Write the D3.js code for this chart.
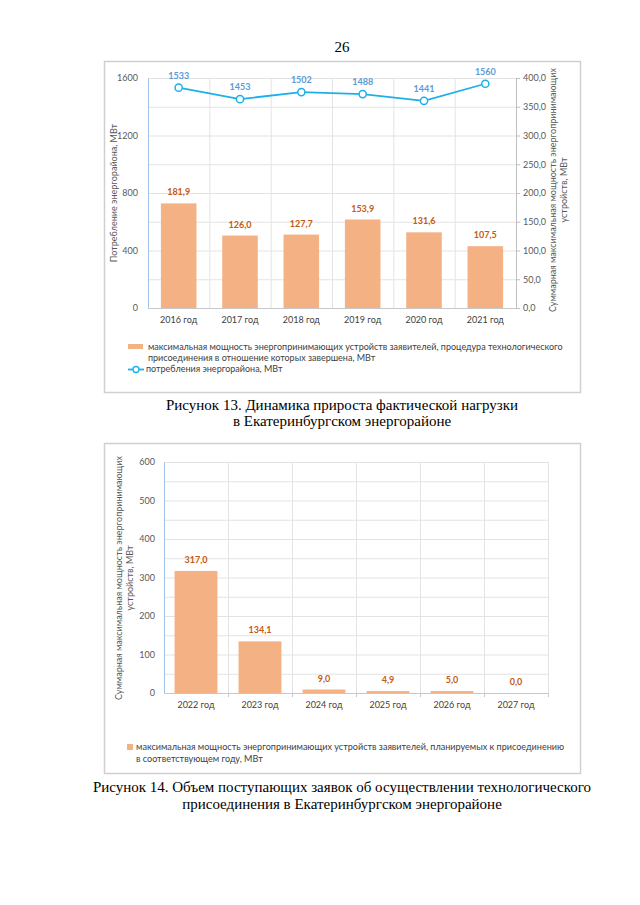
<!DOCTYPE html>
<html><head><meta charset="utf-8">
<script src="https://cdn.jsdelivr.net/npm/d3@7/dist/d3.min.js"></script>
<style>body{margin:0;background:#fff}svg{display:block}</style>
</head><body>
<svg id="c" width="640" height="905"></svg>
<script>
// ---- Data: figure 13 ----
const years1 = ["2016 год","2017 год","2018 год","2019 год","2020 год","2021 год"];
const barVals1 = [181.9,126.0,127.7,153.9,131.6,107.5];
const lineVals1 = [1533,1453,1502,1488,1441,1560];
const leftTicks1 = [0,400,800,1200,1600];
const rightTicks1 = [0,50,100,150,200,250,300,350,400];
// ---- Data: figure 14 ----
const years2 = ["2022 год","2023 год","2024 год","2025 год","2026 год","2027 год"];
const barVals2 = [317.0,134.1,9.0,4.9,5.0,0.0];
const leftTicks2 = [0,100,200,300,400,500,600];

const fmt = v => v.toFixed(1).replace(".", ",");
const svg = d3.select("#c");
const SANS = "Lato, 'Open Sans', sans-serif";
const SERIF = "'Liberation Serif', 'DejaVu Serif', serif";
const BAR = "#f4b183", BARLBL = "#c55a11", LINE = "#1cb0ea", LINELBL = "#5b9bd5";
const GRID = "#e3e3e3", TXT = "#595959";

// page number
svg.append("text").attr("x",342).attr("y",52).attr("text-anchor","middle")
  .attr("font-family",SERIF).attr("font-size",15).text("26");

// ================= Figure 13 =================
{
  const g = svg.append("g");
  g.append("rect").attr("x",104.5).attr("y",61.5).attr("width",476).attr("height",331)
    .attr("fill","#fff").attr("stroke","#d0d0d0").attr("stroke-width",1.5);
  const x = d3.scaleBand().domain(years1).range([148,516]).paddingInner(0.42).paddingOuter(0.21);
  const xb = d3.scaleBand().domain(years1).range([148,516]);
  const yL = d3.scaleLinear().domain([0,1600]).range([308,78]);
  const yR = d3.scaleLinear().domain([0,400]).range([308,78]);
  // horizontal grid
  g.append("g").selectAll("line").data(d3.range(200,1601,200)).join("line")
    .attr("x1",148).attr("x2",516).attr("y1",d=>yL(d)+0.5).attr("y2",d=>yL(d)+0.5)
    .attr("stroke",GRID);
  // vertical grid
  g.append("g").selectAll("line").data(years1.slice(1)).join("line")
    .attr("x1",d=>xb(d)+0.5).attr("x2",d=>xb(d)+0.5).attr("y1",78).attr("y2",308)
    .attr("stroke",GRID);
  // bottom axis
  const ax = g.append("g").attr("transform","translate(0,308)")
    .call(d3.axisBottom(xb).tickSize(0).tickPadding(9));
  ax.select(".domain").attr("stroke","#c8c8c8");
  ax.selectAll("text").attr("font-family",SANS).attr("font-size",9).attr("fill","#404040");
  // left axis
  const al = g.append("g").attr("transform","translate(148,0)")
    .call(d3.axisLeft(yL).tickValues(leftTicks1).tickFormat(d=>String(d)).tickSize(0).tickPadding(10));
  al.select(".domain").attr("stroke","#9dc3e6");
  al.selectAll("text").attr("font-family",SANS).attr("font-size",9).attr("fill",TXT);
  // right axis
  const ar = g.append("g").attr("transform","translate(516,0)")
    .call(d3.axisRight(yR).tickValues(rightTicks1).tickFormat(fmt).tickSize(4).tickPadding(3));
  ar.select(".domain").attr("stroke","#bfbfbf");
  ar.selectAll("line").attr("stroke","#bfbfbf");
  ar.selectAll("text").attr("font-family",SANS).attr("font-size",9).attr("fill",TXT);
  // bars
  g.append("g").selectAll("rect").data(barVals1).join("rect")
    .attr("x",(d,i)=>x(years1[i])).attr("width",x.bandwidth())
    .attr("y",d=>yR(d)).attr("height",d=>yR(0)-yR(d)).attr("fill",BAR);
  g.append("g").selectAll("text").data(barVals1).join("text")
    .attr("x",(d,i)=>xb(years1[i])+xb.bandwidth()/2).attr("y",d=>yR(d)-8)
    .attr("text-anchor","middle").attr("font-family",SANS).attr("font-size",9)
    .attr("font-weight","bold").attr("fill",BARLBL).text(fmt);
  // line
  const cx = (d,i)=>xb(years1[i])+xb.bandwidth()/2;
  g.append("path").datum(lineVals1)
    .attr("d",d3.line().x(cx).y(d=>yL(d)))
    .attr("fill","none").attr("stroke",LINE).attr("stroke-width",1.8);
  g.append("g").selectAll("circle").data(lineVals1).join("circle")
    .attr("cx",cx).attr("cy",d=>yL(d)).attr("r",3.6)
    .attr("fill","#fff").attr("stroke",LINE).attr("stroke-width",1.5);
  g.append("g").selectAll("text").data(lineVals1).join("text")
    .attr("x",cx).attr("y",d=>yL(d)-9)
    .attr("text-anchor","middle").attr("font-family",SANS).attr("font-size",9)
    .attr("font-weight","bold").attr("fill",LINELBL).text(d=>d);
  // axis titles
  g.append("text").attr("transform","translate(117,193) rotate(-90)")
    .attr("text-anchor","middle").attr("font-family",SANS).attr("font-size",9)
    .attr("fill",TXT).text("Потребление энергорайона, МВт");
  const rt = g.append("text").attr("transform","translate(556,190) rotate(-90)")
    .attr("text-anchor","middle").attr("font-family",SANS).attr("font-size",9).attr("fill",TXT);
  rt.append("tspan").attr("x",0).attr("dy",0).text("Суммарная максимальная мощность энергопринимающих");
  rt.append("tspan").attr("x",0).attr("dy",11).text("устройств, МВт");
  // legend
  g.append("rect").attr("x",128).attr("y",344).attr("width",15).attr("height",5).attr("fill",BAR);
  g.append("line").attr("x1",128).attr("x2",144).attr("y1",369.5).attr("y2",369.5)
    .attr("stroke",LINE).attr("stroke-width",1.8);
  g.append("circle").attr("cx",136).attr("cy",369.5).attr("r",3)
    .attr("fill","#fff").attr("stroke",LINE).attr("stroke-width",1.3);
  const lg = g.append("text").attr("font-family",SANS).attr("font-size",9).attr("fill","#404040");
  lg.append("tspan").attr("x",148).attr("y",350).text("максимальная мощность энергопринимающих устройств заявителей, процедура технологического");
  lg.append("tspan").attr("x",148).attr("y",361).text("присоединения в отношение которых завершена, МВт");
  lg.append("tspan").attr("x",146).attr("y",372).text("потребления энергорайона, МВт");
  // caption
  const cap = svg.append("text").attr("text-anchor","middle").attr("font-family",SERIF).attr("font-size",15);
  cap.append("tspan").attr("x",342).attr("y",410).text("Рисунок 13. Динамика прироста фактической нагрузки");
  cap.append("tspan").attr("x",342).attr("y",426).text("в Екатеринбургском энергорайоне");
}

// ================= Figure 14 =================
{
  const g = svg.append("g");
  g.append("rect").attr("x",104.5).attr("y",443.5).attr("width",476).attr("height",330)
    .attr("fill","#fff").attr("stroke","#d0d0d0").attr("stroke-width",1.5);
  const x = d3.scaleBand().domain(years2).range([164,548]).paddingInner(0.33).paddingOuter(0.165);
  const xb = d3.scaleBand().domain(years2).range([164,548]);
  const y = d3.scaleLinear().domain([0,600]).range([693,462]);
  g.append("g").selectAll("line").data(d3.range(50,601,50)).join("line")
    .attr("x1",164).attr("x2",548).attr("y1",d=>y(d)+0.5).attr("y2",d=>y(d)+0.5)
    .attr("stroke",GRID);
  g.append("g").selectAll("line").data(years2.slice(1).concat(["end"])).join("line")
    .attr("x1",(d,i)=>i<5?xb(d)+0.5:548.5).attr("x2",(d,i)=>i<5?xb(d)+0.5:548.5)
    .attr("y1",462).attr("y2",693).attr("stroke",GRID);
  const ax = g.append("g").attr("transform","translate(0,693)")
    .call(d3.axisBottom(xb).tickSize(0).tickPadding(9));
  ax.select(".domain").attr("stroke","#c8c8c8");
  ax.selectAll("text").attr("font-family",SANS).attr("font-size",9).attr("fill","#404040");
  g.append("g").selectAll("line").data(years2.slice(1).concat(["end"])).join("line")
    .attr("x1",(d,i)=>i<5?xb(d)+0.5:548.5).attr("x2",(d,i)=>i<5?xb(d)+0.5:548.5)
    .attr("y1",693).attr("y2",697).attr("stroke","#c8c8c8");
  const al = g.append("g").attr("transform","translate(164,0)")
    .call(d3.axisLeft(y).tickValues(leftTicks2).tickFormat(d=>String(d)).tickSize(0).tickPadding(9));
  al.select(".domain").attr("stroke","#9dc3e6");
  al.selectAll("text").attr("font-family",SANS).attr("font-size",9).attr("fill",TXT);
  g.append("g").selectAll("rect").data(barVals2).join("rect")
    .attr("x",(d,i)=>x(years2[i])).attr("width",x.bandwidth())
    .attr("y",d=>y(d)).attr("height",d=>y(0)-y(d)).attr("fill",BAR);
  g.append("g").selectAll("text").data(barVals2).join("text")
    .attr("x",(d,i)=>xb(years2[i])+xb.bandwidth()/2).attr("y",d=>y(d)-8)
    .attr("text-anchor","middle").attr("font-family",SANS).attr("font-size",9)
    .attr("font-weight","bold").attr("fill",BARLBL).text(fmt);
  const lt = g.append("text").attr("transform","translate(122,578) rotate(-90)")
    .attr("text-anchor","middle").attr("font-family",SANS).attr("font-size",9).attr("fill",TXT);
  lt.append("tspan").attr("x",0).attr("dy",0).text("Суммарная максимальная мощность энергопринимающих");
  lt.append("tspan").attr("x",0).attr("dy",11).text("устройств, МВт");
  g.append("rect").attr("x",127).attr("y",744).attr("width",6).attr("height",6).attr("fill",BAR);
  const lg = g.append("text").attr("font-family",SANS).attr("font-size",9.05).attr("fill","#404040");
  lg.append("tspan").attr("x",136).attr("y",750).text("максимальная мощность энергопринимающих устройств заявителей, планируемых к присоединению");
  lg.append("tspan").attr("x",136).attr("y",762).text("в соответствующем году, МВт");
  const cap = svg.append("text").attr("text-anchor","middle").attr("font-family",SERIF).attr("font-size",15);
  cap.append("tspan").attr("x",342).attr("y",792).text("Рисунок 14. Объем поступающих заявок об осуществлении технологического");
  cap.append("tspan").attr("x",342).attr("y",809).text("присоединения в Екатеринбургском энергорайоне");
}
</script>
</body></html>
